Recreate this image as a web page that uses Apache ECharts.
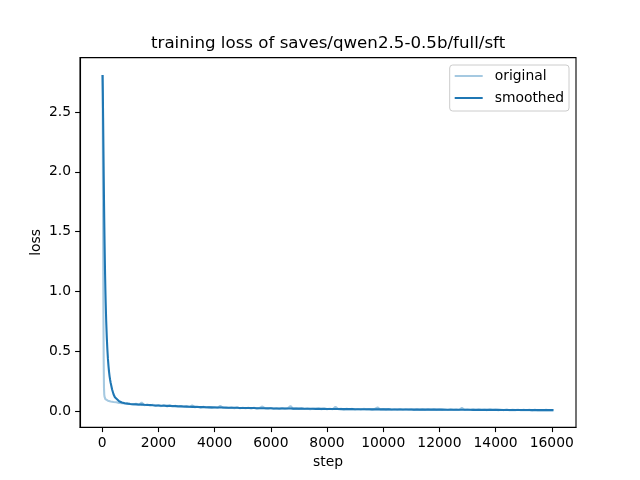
<!DOCTYPE html>
<html>
<head>
<meta charset="utf-8">
<script src="https://cdn.jsdelivr.net/npm/echarts@6/dist/echarts.min.js"></script>
<style>html,body{margin:0;padding:0;background:#fff}#c{width:640px;height:480px}</style>
</head>
<body>
<div id="c"></div>
<script>
var titleText = "training loss of saves/qwen2.5-0.5b/full/sft";
var xTicks = [0, 2000, 4000, 6000, 8000, 10000, 12000, 14000, 16000];
var yTicks = [0, 0.5, 1.0, 1.5, 2.0, 2.5];

var steps = [10,20,30,40,50,60,70,80,90,100,110,120,140,160,180,200,220,240,260,280,300,350,400,450,500,600,700,800,900,1000,
1100,1200,1300,1400,1500,1600,1700,1800,1900,2000,
2100,2200,2300,2400,2500,2600,2700,2800,2900,3000,
3100,3200,3300,3400,3500,3600,3700,3800,3900,4000,
4100,4200,4300,4400,4500,4600,4700,4800,4900,5000,
5100,5200,5300,5400,5500,5600,5700,5800,5900,6000,
6100,6200,6300,6400,6500,6600,6700,6800,6900,7000,
7100,7200,7300,7400,7500,7600,7700,7800,7900,8000,
8100,8200,8300,8400,8500,8600,8700,8800,8900,9000,
9100,9200,9300,9400,9500,9600,9700,9800,9900,10000,
10100,10200,10300,10400,10500,10600,10700,10800,10900,11000,
11100,11200,11300,11400,11500,11600,11700,11800,11900,12000,
12100,12200,12300,12400,12500,12600,12700,12800,12900,13000,
13100,13200,13300,13400,13500,13600,13700,13800,13900,14000,
14100,14200,14300,14400,14500,14600,14700,14800,14900,15000,
15100,15200,15300,15400,15500,15600,15700,15800,15900,16000,16060];

var original = [2.81,2.2,1.5,0.85,0.42,0.2,0.14,0.12,0.11,0.105,0.1,0.098,0.094,0.09,0.092,0.087,0.085,0.088,0.082,0.084,0.08,0.078,0.076,0.072,0.074,0.068,0.066,0.063,0.064,0.058,
0.054,0.061,0.05,0.072,0.049,0.055,0.046,0.052,0.043,0.049,
0.041,0.05,0.039,0.046,0.038,0.044,0.036,0.043,0.035,0.04,
0.033,0.048,0.031,0.037,0.029,0.036,0.03,0.034,0.028,0.033,
0.027,0.044,0.026,0.031,0.025,0.03,0.024,0.03,0.023,0.028,
0.023,0.028,0.022,0.027,0.021,0.026,0.038,0.022,0.02,0.025,
0.019,0.024,0.018,0.025,0.019,0.023,0.042,0.018,0.021,0.017,
0.022,0.017,0.021,0.016,0.02,0.017,0.022,0.016,0.019,0.016,
0.02,0.015,0.036,0.016,0.019,0.014,0.018,0.015,0.018,0.013,
0.017,0.013,0.018,0.014,0.016,0.013,0.017,0.03,0.013,0.016,
0.012,0.016,0.011,0.015,0.012,0.016,0.011,0.015,0.012,0.014,
0.01,0.015,0.011,0.014,0.01,0.015,0.011,0.014,0.01,0.013,
0.01,0.013,0.009,0.014,0.01,0.012,0.009,0.026,0.01,0.013,
0.009,0.012,0.008,0.013,0.009,0.011,0.008,0.012,0.009,0.011,
0.008,0.011,0.008,0.012,0.007,0.01,0.008,0.011,0.007,0.01,
0.007,0.01,0.006,0.011,0.007,0.009,0.006,0.01,0.007,0.009,0.008];

var smoothed = [2.81,2.66,2.45,2.22,2.0,1.79,1.6,1.43,1.28,1.14,1.02,0.92,0.75,0.62,0.52,0.44,0.38,0.33,0.29,0.26,0.235,0.18,0.14,0.115,0.1,0.082,0.072,0.066,0.062,0.059,
0.057,0.056,0.055,0.054,0.052,0.051,0.05,0.048,0.047,0.046,
0.045,0.044,0.043,0.043,0.042,0.041,0.04,0.039,0.038,0.037,
0.036,0.035,0.035,0.034,0.033,0.033,0.032,0.031,0.031,0.03,
0.030,0.029,0.029,0.028,0.028,0.028,0.027,0.027,0.026,0.026,
0.026,0.025,0.025,0.025,0.024,0.024,0.024,0.023,0.023,0.023,
0.022,0.022,0.022,0.021,0.021,0.021,0.021,0.020,0.020,0.020,
0.020,0.019,0.019,0.019,0.019,0.018,0.018,0.018,0.018,0.017,
0.017,0.017,0.017,0.017,0.016,0.016,0.016,0.016,0.016,0.015,
0.015,0.015,0.015,0.015,0.015,0.014,0.014,0.014,0.014,0.014,
0.014,0.014,0.013,0.013,0.013,0.013,0.013,0.013,0.013,0.013,
0.012,0.012,0.012,0.012,0.012,0.012,0.012,0.012,0.012,0.012,
0.012,0.011,0.011,0.011,0.011,0.011,0.011,0.011,0.011,0.011,
0.011,0.010,0.010,0.010,0.010,0.010,0.010,0.010,0.010,0.010,
0.010,0.009,0.009,0.009,0.009,0.009,0.009,0.009,0.009,0.009,
0.009,0.009,0.008,0.008,0.008,0.008,0.008,0.008,0.008,0.008,0.008];

function pairs(xs, ys) { return xs.map(function (x, i) { return [x, ys[i]]; }); }

var FONT = 'DejaVu Sans';
var chart = echarts.init(document.getElementById('c'), null, { renderer: 'canvas' });
chart.setOption({
  animation: false,
  backgroundColor: '#ffffff',
  title: {
    text: titleText,
    left: 151,
    top: 35,
    padding: 0,
    textStyle: { fontFamily: FONT, fontSize: 16.67, fontWeight: 'normal', color: '#000' }
  },
  legend: {
    orient: 'vertical',
    right: 71,
    top: 65,
    padding: [4, 5, 6, 5],
    itemGap: 8,
    itemWidth: 28,
    itemHeight: 2,
    icon: 'rect',
    borderColor: '#cccccc',
    borderWidth: 1,
    borderRadius: 3,
    backgroundColor: '#ffffff',
    textStyle: { fontFamily: FONT, fontSize: 13.89, color: '#000', padding: [0, 0, 0, 7] },
    data: ['original', 'smoothed']
  },
  grid: {
    left: 80, right: 64, top: 57.6, bottom: 52.8,
    show: true, borderColor: '#000', borderWidth: 1.1, backgroundColor: 'transparent'
  },
  xAxis: {
    type: 'value',
    min: -793, max: 16863,
    name: 'step', nameLocation: 'middle', nameGap: 28, nameMoveOverlap: false,
    nameTextStyle: { fontFamily: FONT, fontSize: 13.89, color: '#000' },
    axisLine: { show: true, onZero: false, lineStyle: { color: '#000', width: 1.1 } },
    axisTick: { show: true, length: 4.9, customValues: xTicks, lineStyle: { color: '#000', width: 1.1 } },
    axisLabel: { margin: 9, customValues: xTicks, fontFamily: FONT, fontSize: 13.89, color: '#000',
      formatter: function (v) { return String(v); } },
    splitLine: { show: false }
  },
  yAxis: {
    type: 'value',
    min: -0.135, max: 2.955,
    name: 'loss', nameLocation: 'middle', nameGap: 37, nameMoveOverlap: false,
    nameTextStyle: { fontFamily: FONT, fontSize: 13.89, color: '#000' },
    axisLine: { show: true, onZero: false, lineStyle: { color: '#000', width: 1.1 } },
    axisTick: { show: true, length: 4.9, customValues: yTicks, lineStyle: { color: '#000', width: 1.1 } },
    axisLabel: { margin: 9, customValues: yTicks, fontFamily: FONT, fontSize: 13.89, color: '#000',
      formatter: function (v) { return v.toFixed(1); } },
    splitLine: { show: false }
  },
  series: [
    {
      name: 'original', type: 'line', data: pairs(steps, original),
      symbol: 'none', color: '#a5c9e1',
      lineStyle: { color: '#a5c9e1', width: 2.08 }, z: 2
    },
    {
      name: 'smoothed', type: 'line', data: pairs(steps, smoothed),
      symbol: 'none', color: '#1f77b4',
      lineStyle: { color: '#1f77b4', width: 2.08 }, z: 3
    }
  ]
});
</script>
</body>
</html>
